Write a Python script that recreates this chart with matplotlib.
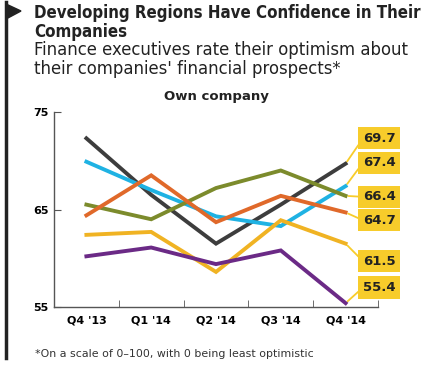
import numpy as np
import matplotlib.pyplot as plt
from matplotlib.patches import Polygon

quarters = ["Q4 '13", "Q1 '14", "Q2 '14", "Q3 '14", "Q4 '14"]

# optimism index, own company (0-100 scale)
black = [72.3, 66.5, 61.5, 65.5, 69.7]
cyan = [69.9, 67.0, 64.3, 63.3, 67.4]
olive = [65.5, 64.0, 67.2, 69.0, 66.4]
orange = [64.4, 68.5, 63.7, 66.4, 64.7]
yellow = [62.4, 62.7, 58.6, 63.9, 61.5]
purple = [60.2, 61.1, 59.4, 60.8, 55.4]

series = [black, cyan, olive, orange, yellow, purple]
colors = ['#3d3d3d', '#1fb2e3', '#7c8b2c', '#e0692a', '#f0b323', '#6b2a86']
label_y = [72.3, 69.8, 66.3, 63.9, 59.7, 57.0]   # where the end-value boxes sit

fig = plt.figure(figsize=(4.3, 3.68), dpi=100)
fig.patch.set_facecolor('white')

ax = fig.add_axes([54/430, 1 - 307/368, 324/430, 195/368])
x = np.arange(len(quarters))
for vals, c in zip(series, colors):
    ax.plot(x, vals, color=c, lw=2.8, solid_joinstyle='miter', zorder=3)

box_col = '#f7cc2b'
for vals, ly in zip(series, label_y):
    ax.annotate('%.1f' % vals[-1], xy=(x[-1], vals[-1]), xytext=(4.52, ly),
                ha='center', va='center', fontsize=9.5, fontweight='bold',
                color='#222222', annotation_clip=False,
                bbox=dict(boxstyle='square,pad=0.35', fc=box_col, ec='none'),
                arrowprops=dict(arrowstyle='-', color=box_col, lw=1.3,
                                shrinkA=0, shrinkB=2, relpos=(0, 0.5)))

ax.set_xlim(-0.5, 4.5)
ax.set_ylim(55, 75)
ax.set_yticks([55, 65, 75])
ax.set_yticklabels(['55', '65', '75'], fontsize=8, fontweight='bold')
ax.set_xticks(x)
ax.set_xticklabels(quarters, fontsize=8, fontweight='bold')
ax.set_xticks(np.arange(0.5, 5, 1), minor=True)
ax.tick_params(axis='x', which='major', length=0, pad=6)
ax.tick_params(axis='x', which='minor', direction='in', length=5, color='#555555')
ax.tick_params(axis='y', direction='in', length=5, color='#555555', pad=4)
for s in ['top', 'right']:
    ax.spines[s].set_visible(False)
for s in ['left', 'bottom']:
    ax.spines[s].set_color('#555555')
    ax.spines[s].set_linewidth(1)
ax.text(0.5, 1.045, 'Own company', transform=ax.transAxes, ha='center',
        va='bottom', fontsize=9.5, fontweight='bold', color='#222222')

# headline, subhead and footnote
fig.text(34/430, 1 - 4/368, 'Developing Regions Have Confidence in Their\nCompanies',
         fontsize=12.1, fontweight='bold', fontstretch='condensed',
         color='#222222', va='top', linespacing=1.05)
fig.text(34/430, 1 - 41/368, "Finance executives rate their optimism about\n"
         "their companies' financial prospects*", fontsize=11.9,
         color='#222222', va='top', linespacing=1.1)
fig.text(35/430, 1 - 357/368, '*On a scale of 0\u2013100, with 0 being least optimistic',
         fontsize=7.9, color='#333333', va='baseline')

# flag marker on the left edge
fig.add_artist(plt.Line2D([6/430, 6/430], [1 - 2/368, 1 - 358/368],
                          color='#222222', lw=2.5, transform=fig.transFigure))
fig.add_artist(Polygon([[6/430, 1 - 4/368], [21/430, 1 - 11/368], [6/430, 1 - 19/368]],
                       closed=True, color='#222222', transform=fig.transFigure))

fig.savefig('out.png', dpi=100)
